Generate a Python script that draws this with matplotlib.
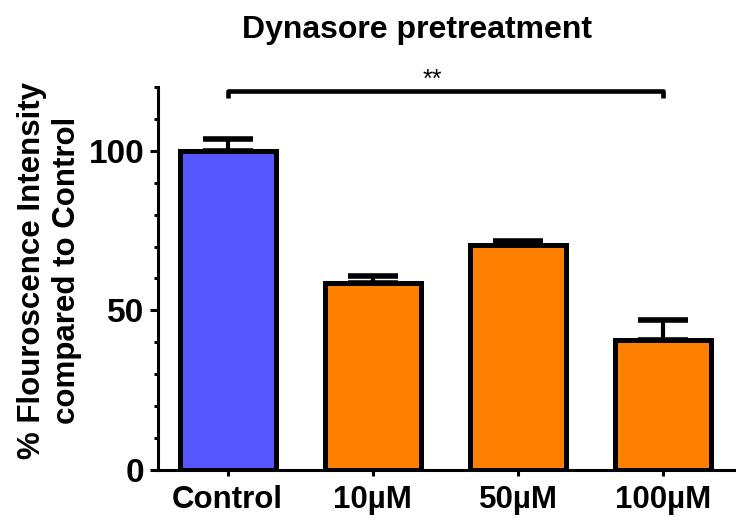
import matplotlib
matplotlib.use('Agg')
import matplotlib.pyplot as plt
from matplotlib.ticker import MultipleLocator
import numpy as np

plt.rcParams['font.family'] = ['Liberation Sans', 'DejaVu Sans']
plt.rcParams['font.weight'] = 'bold'

# ---------- data
groups = ['Control', '10\u00b5M', '50\u00b5M', '100\u00b5M']
means = [100.0, 58.7, 70.5, 40.8]
sems = [3.7, 2.2, 1.3, 6.2]
bar_colors = ['#5757FF', '#FF8000', '#FF8000', '#FF8000']
sig_pair = (0, 3)
sig_label = '**'

# ---------- figure
my_dpi = 100
fig = plt.figure(figsize=(736/my_dpi, 521/my_dpi), dpi=my_dpi)
ax = fig.add_axes([0.2147, 0.098, 0.785, 0.735])

x = np.arange(len(groups))
ax.errorbar(x, means, yerr=[np.zeros(len(sems)), sems], fmt='none',
            ecolor='black', elinewidth=3, capsize=18, capthick=4, zorder=1)
ax.bar(x, means, width=0.66, color=bar_colors, edgecolor='black',
       linewidth=3.6, zorder=2)

# significance bracket
y_br, y_tip = 118.8, 116.6
ax.plot([x[sig_pair[0]], x[sig_pair[0]], x[sig_pair[1]], x[sig_pair[1]]],
        [y_tip, y_br, y_br, y_tip], color='black', lw=3.3, clip_on=False,
        solid_capstyle='butt')
ax.text(1.41, 120.2, sig_label, ha='center', va='baseline', fontsize=18,
        fontweight='normal', clip_on=False)

ax.set_xlim(-0.48, 3.5)
ax.set_ylim(0, 120)
ax.set_xticks(x)
ax.set_xticklabels(groups, fontsize=22.5)
ax.yaxis.set_major_locator(MultipleLocator(50))
ax.yaxis.set_minor_locator(MultipleLocator(10))
ax.tick_params(axis='y', which='major', length=6, width=2.2, labelsize=24, pad=4)
ax.tick_params(axis='y', which='minor', length=3, width=2.2)
ax.tick_params(axis='x', which='major', length=4, width=2.2, pad=7)

for side in ['top', 'right']:
    ax.spines[side].set_visible(False)
for side in ['left', 'bottom']:
    ax.spines[side].set_linewidth(2.2)

ax.set_ylabel('% Flouroscence Intensity\ncompared to Control', fontsize=22.5,
              fontweight='bold', linespacing=1.2)
ax.yaxis.set_label_coords(-0.132, 0.52)
fig.text(0.567, 0.943, 'Dynasore pretreatment', ha='center', va='center',
         fontsize=23, fontweight='bold')

fig.savefig('out.png', dpi=my_dpi)
